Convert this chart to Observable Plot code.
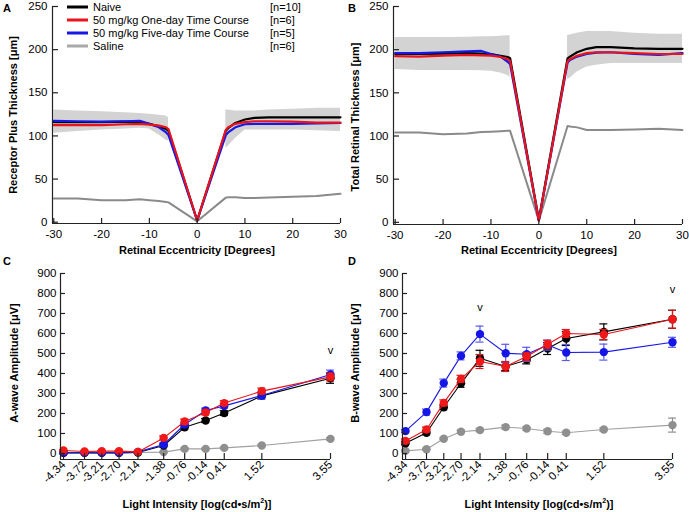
<!DOCTYPE html>
<html><head><meta charset="utf-8">
<script src="https://cdn.jsdelivr.net/npm/d3@7"></script>
<script src="https://cdn.jsdelivr.net/npm/@observablehq/plot@0.6"></script>
<style>
body{margin:0;background:#fff;}
#fig{position:relative;width:689px;height:512px;overflow:hidden;font-family:"Liberation Sans",Arial,sans-serif;color:#000;}
.panel{position:absolute;line-height:0;}
.panel svg{display:block;}
.t{position:absolute;white-space:nowrap;line-height:1;}
.b{font-weight:bold;font-size:11px;}
.yt{transform:translate(-50%,-50%) rotate(-90deg);}
.xt{transform:translate(-50%,-50%);}
.leg{position:absolute;font-size:11px;white-space:nowrap;line-height:1;transform:translateY(-50%);}
.sw{position:absolute;height:3px;width:21px;transform:translateY(-50%);}
sup{font-size:7px;vertical-align:5px;line-height:0;}
</style></head>
<body><div id="fig"></div>
<script>
// ---------- Panels A & B: thickness vs retinal eccentricity ----------
const eccX = [-30,-25,-20,-15,-12,-10,-8,-6.5,-6,0,6,6.5,8,10,12,15,20,25,30];
const rpNaive  = [116,116,116,116.5,116,114,111,108,106,2,106,109,115,119,121,121.5,121.5,121.5,121.5];
const rpOneDay = [112.5,112.5,112.5,113.5,114,113,112,110,108,2,107,110,114,116,117,117,116.5,115.5,115.5];
const rpFiveDay= [117.5,117,116.5,117,117.5,114,110,104,101,2,101,104,110,113.5,114,114,114,114.5,115];
const rpSaline = [27.5,27.5,25.5,25.5,26.5,25.5,24.5,23.5,23,1,28.5,29,29,28,28,28.5,29.5,30.5,33];
const bandXLeft  = [-30,-25,-20,-15,-12,-10,-8,-6.5,-6];
const bandXRight = [6,6.5,8,10,12,15,20,25,30];
const rpBandHiL = [130,129,128,127,126,125,124,123,121];
const rpBandLoL = [103,105,107,108,109,108,101,95,94];
const rpBandHiR = [130,130,129,129,129,130,131,132,132];
const rpBandLoR = [86,88,97,107,107,107,107,106,105];

const trNaive  = [195,195,195.5,196,195.5,195,193,191.5,190,3,190,192,197,201,203,203,201.5,201,201];
const trOneDay = [192.5,192,193,194,193.5,193,191.5,189,187,2,187,189,193,196,197,197,196,195,195];
const trFiveDay= [196,196,197,198,198.5,195,192,186,183,2,185,188,192,195,196.5,197,195,194,196];
const trSaline = [104,104,102,103,104.5,105,105.5,106,106,2,111.5,111,110,107,107,107,107.5,108.5,107];
const trBandHiL = [214,214,214,214.5,215,215,215.5,216,216];
const trBandLoL = [177,176,176,176,175.5,175,173,170,168];
const trBandHiR = [216.5,217,219,221,221,221,219,218,218];
const trBandLoR = [165.5,167,174,180,182,184,184,184,184];

const eccTicks = [-30,-20,-10,0,10,20,30];
const thickTicks = [0,50,100,150,200,250];

// ---------- Panels C & D: ERG amplitude vs light intensity ----------
const lightX = [-4.34,-3.72,-3.21,-2.70,-2.14,-1.38,-0.76,-0.14,0.41,1.52,3.55];
const lightLabels = ["-4.34","-3.72","-3.21","-2.70","-2.14","-1.38","-0.76","-0.14","0.41","1.52","3.55"];
const ampTicks = [0,100,200,300,400,500,600,700,800,900];

const aNaive     = [3,3,3,3,5,40,131,165,202,288,376];
const aNaiveErr  = [3,3,3,3,3,8,10,10,12,15,25];
const aOneDay    = [15,10,12,12,8,78,160,205,252,312,383];
const aOneDayErr = [4,3,3,3,3,10,12,12,12,15,20];
const aFiveDay   = [5,5,5,5,8,45,145,215,238,290,395];
const aFiveDayErr= [3,3,3,3,3,8,10,12,12,18,22];
const aSaline    = [3,3,3,3,5,7,23,23,28,40,73];
const aSalineErr = [2,2,2,2,2,3,4,4,4,5,6];

const bNaive     = [51,104,231,351,476,435,468,525,575,608,671];
const bNaiveErr  = [8,10,12,20,40,20,20,30,35,40,45];
const bOneDay    = [63,120,253,373,460,435,485,546,600,595,671];
const bOneDayErr = [10,12,15,18,35,25,20,20,20,25,45];
const bFiveDay   = [112,207,352,488,597,501,496,542,505,507,556];
const bFiveDayErr= [8,15,20,20,40,45,35,25,40,40,25];
const bSaline    = [13,21,74,109,117,132,125,111,104,120,142];
const bSalineErr = [5,5,5,8,8,10,8,10,8,8,35];

const vMarksA = [{x:3.55, y:515}];
const vMarksB = [{x:-2.14, y:731},{x:3.55, y:822}];

const seriesNames = ["Naive","50 mg/kg One-day Time Course","50 mg/kg Five-day Time Course","Saline"];
const seriesN = ["[n=10]","[n=6]","[n=5]","[n=6]"];
const lineColors = ["#000000","#e8141c","#1818e6","#8a8a8a"];
const ergLineColors = ["#000000","#e8141c","#1818e6","#a0a0a0"];
const dotColors  = ["#000000","#f01818","#1515e8","#8f8f8f"];
const errColors  = ["#000000","#d81818","#5a5af0","#8f8f8f"];

// ---------- helpers ----------
const fig = document.getElementById("fig");
const FONT = '"Liberation Sans", Arial, sans-serif';
function place(svg, left, top){
  const d = document.createElement("div"); d.className = "panel";
  d.style.left = left+"px"; d.style.top = top+"px"; d.appendChild(svg); fig.appendChild(d);
}
function addText(html, cls, x, y){ const d=document.createElement("div"); d.className="t "+cls; d.innerHTML=html; d.style.left=x+"px"; d.style.top=y+"px"; fig.appendChild(d); return d; }

function rows(xs, ys){ return xs.map((x,i)=>({x, y: ys[i]})); }
function bandRows(xL, hiL, loL, xR, hiR, loR){
  return xL.map((x,i)=>({x, hi: hiL[i], lo: loL[i], side:"L"}))
    .concat(xR.map((x,i)=>({x, hi: hiR[i], lo: loR[i], side:"R"})));
}

function thicknessPanel({width, height, mL, mR, mT, mB, xDom, yDom, series, band}){
  const pxX = (width-mL-mR)/(xDom[1]-xDom[0]);
  const pxY = (height-mT-mB)/(yDom[1]-yDom[0]);
  const ytl = 6/pxX, xtl = 5/pxY;
  const order = [3,0,2,1];
  return Plot.plot({
    width, height, marginLeft:mL, marginRight:mR, marginTop:mT, marginBottom:mB,
    x:{domain:xDom}, y:{domain:yDom},
    style:{fontFamily:FONT, fontSize:"11px", background:"transparent", overflow:"visible"},
    marks:[
      Plot.areaY(band, {x:"x", y1:"lo", y2:"hi", z:"side", fill:"#d3d3d3"}),
      ...order.map(k => Plot.line(rows(eccX, series[k]), {x:"x", y:"y", stroke:lineColors[k], strokeWidth: k===3?2:2.2})),
      Plot.ruleX([xDom[0]], {stroke:"#222", strokeWidth:1.2}),
      Plot.ruleY([yDom[0]], {stroke:"#222", strokeWidth:1.2}),
      Plot.ruleY(thickTicks, {y:d=>d, x1:xDom[0], x2:xDom[0]+ytl, stroke:"#222", strokeWidth:1.2}),
      Plot.ruleX(eccTicks, {x:d=>d, y1:yDom[0], y2:yDom[0]+xtl, stroke:"#222", strokeWidth:1.2}),
      Plot.axisY({ticks:thickTicks, tickSize:0, tickPadding:5, label:null, tickFormat:d=>String(d), fontSize:11.5}),
      Plot.axisX({ticks:eccTicks, tickSize:0, tickPadding:6, label:null, tickFormat:d=>String(d), fontSize:11.5})
    ]
  });
}

function ampPanel({width, height, mL, mR, mT, mB, xDom, yDom, series, errs, vmarks}){
  const pxX = (width-mL-mR)/(xDom[1]-xDom[0]);
  const pxY = (height-mT-mB)/(yDom[1]-yDom[0]);
  const ytl = 5/pxX, xtl = 6/pxY, cap = 4/pxX;
  const order = [3,0,2,1];
  const marks = [];
  for (const k of order){
    const r = lightX.map((x,i)=>({x, y: series[k][i], e: errs[k][i]}));
    marks.push(
      Plot.line(r, {x:"x", y:"y", stroke:ergLineColors[k], strokeWidth:1.1}),
      Plot.ruleX(r, {x:"x", y1:d=>d.y-d.e, y2:d=>d.y+d.e, stroke:errColors[k], strokeWidth:1.2}),
      Plot.ruleY(r, {y:d=>d.y+d.e, x1:d=>d.x-cap, x2:d=>d.x+cap, stroke:errColors[k], strokeWidth:1.2}),
      Plot.ruleY(r, {y:d=>d.y-d.e, x1:d=>d.x-cap, x2:d=>d.x+cap, stroke:errColors[k], strokeWidth:1.2}),
      Plot.dot(r, {x:"x", y:"y", r:4.2, fill:dotColors[k], stroke:"none"})
    );
  }
  return Plot.plot({
    width, height, marginLeft:mL, marginRight:mR, marginTop:mT, marginBottom:mB,
    x:{domain:xDom}, y:{domain:yDom},
    style:{fontFamily:FONT, fontSize:"11px", background:"transparent", overflow:"visible"},
    marks:[
      ...marks,
      Plot.text(vmarks, {x:"x", y:"y", text:()=>"v", fontSize:11, fill:"#000"}),
      Plot.ruleX([xDom[0]], {stroke:"#222", strokeWidth:1.2}),
      Plot.ruleY([yDom[0]], {stroke:"#222", strokeWidth:1.2}),
      Plot.ruleY(ampTicks, {y:d=>d, x1:xDom[0], x2:xDom[0]+ytl, stroke:"#222", strokeWidth:1.2}),
      Plot.ruleX(lightX, {x:d=>d, y1:yDom[0], y2:yDom[0]+xtl, stroke:"#222", strokeWidth:1.2}),
      Plot.axisY({ticks:ampTicks, tickSize:0, tickPadding:4, label:null, tickFormat:d=>String(d), fontSize:11.5}),
      Plot.axisX({ticks:lightX, tickSize:0, tickPadding:3, tickRotate:-45, label:null,
        tickFormat:d=>lightLabels[lightX.indexOf(d)], fontSize:11.5})
    ]
  });
}

// Panel A
place(thicknessPanel({width:345, height:262, mL:52, mR:5, mT:6, mB:39, xDom:[-30.27,30], yDom:[-1.5,250],
  series:[rpNaive, rpOneDay, rpFiveDay, rpSaline],
  band: bandRows(bandXLeft, rpBandHiL, rpBandLoL, bandXRight, rpBandHiR, rpBandLoR)}), 0, 0);
// Panel B
place(thicknessPanel({width:344, height:262, mL:48, mR:7, mT:6, mB:38, xDom:[-30.35,30], yDom:[-2.5,250],
  series:[trNaive, trOneDay, trFiveDay, trSaline],
  band: bandRows(bandXLeft, trBandHiL, trBandLoL, bandXRight, trBandHiR, trBandLoR)}), 345, 0);
// Panel C
place(ampPanel({width:345, height:250, mL:60, mR:15, mT:11, mB:53, xDom:[-4.43,3.55], yDom:[-30,900],
  series:[aNaive, aOneDay, aFiveDay, aSaline], errs:[aNaiveErr, aOneDayErr, aFiveDayErr, aSalineErr], vmarks:vMarksA}), 0, 262);
// Panel D
place(ampPanel({width:344, height:250, mL:57, mR:17, mT:11, mB:53, xDom:[-4.43,3.55], yDom:[-30,900],
  series:[bNaive, bOneDay, bFiveDay, bSaline], errs:[bNaiveErr, bOneDayErr, bFiveDayErr, bSalineErr], vmarks:vMarksB}), 345, 262);

// Panel letters
addText("A","b",3,3); addText("B","b",348,3); addText("C","b",3,256); addText("D","b",348,256);
// Axis titles
addText("Receptor Plus Thickness [μm]","b yt",13,115);
addText("Total Retinal Thickness [μm]","b yt",355,117);
addText("Retinal Eccentricity [Degrees]","b xt",197,250);
addText("Retinal Eccentricity [Degrees]","b xt",539,250);
addText("A-wave Amplitude [μV]","b yt",14,363);
addText("B-wave Amplitude [μV]","b yt",355,363);
addText("Light Intensity [log(cd•s/m<sup>2</sup>)]","b xt",197,504);
addText("Light Intensity [log(cd•s/m<sup>2</sup>)]","b xt",539,504);

// Legend (panel A)
const legY = [7,20,33,46];
seriesNames.forEach((name,i)=>{
  const sw=document.createElement("div"); sw.className="sw"; sw.style.left="67px"; sw.style.top=legY[i]+"px";
  sw.style.background = i===3 ? "#a8a8a8" : lineColors[i]; fig.appendChild(sw);
  const t=document.createElement("div"); t.className="leg"; t.textContent=name; t.style.left="93px"; t.style.top=legY[i]+"px"; fig.appendChild(t);
  const n=document.createElement("div"); n.className="leg"; n.textContent=seriesN[i]; n.style.left="270px"; n.style.top=legY[i]+"px"; fig.appendChild(n);
});
</script>
</body></html>
